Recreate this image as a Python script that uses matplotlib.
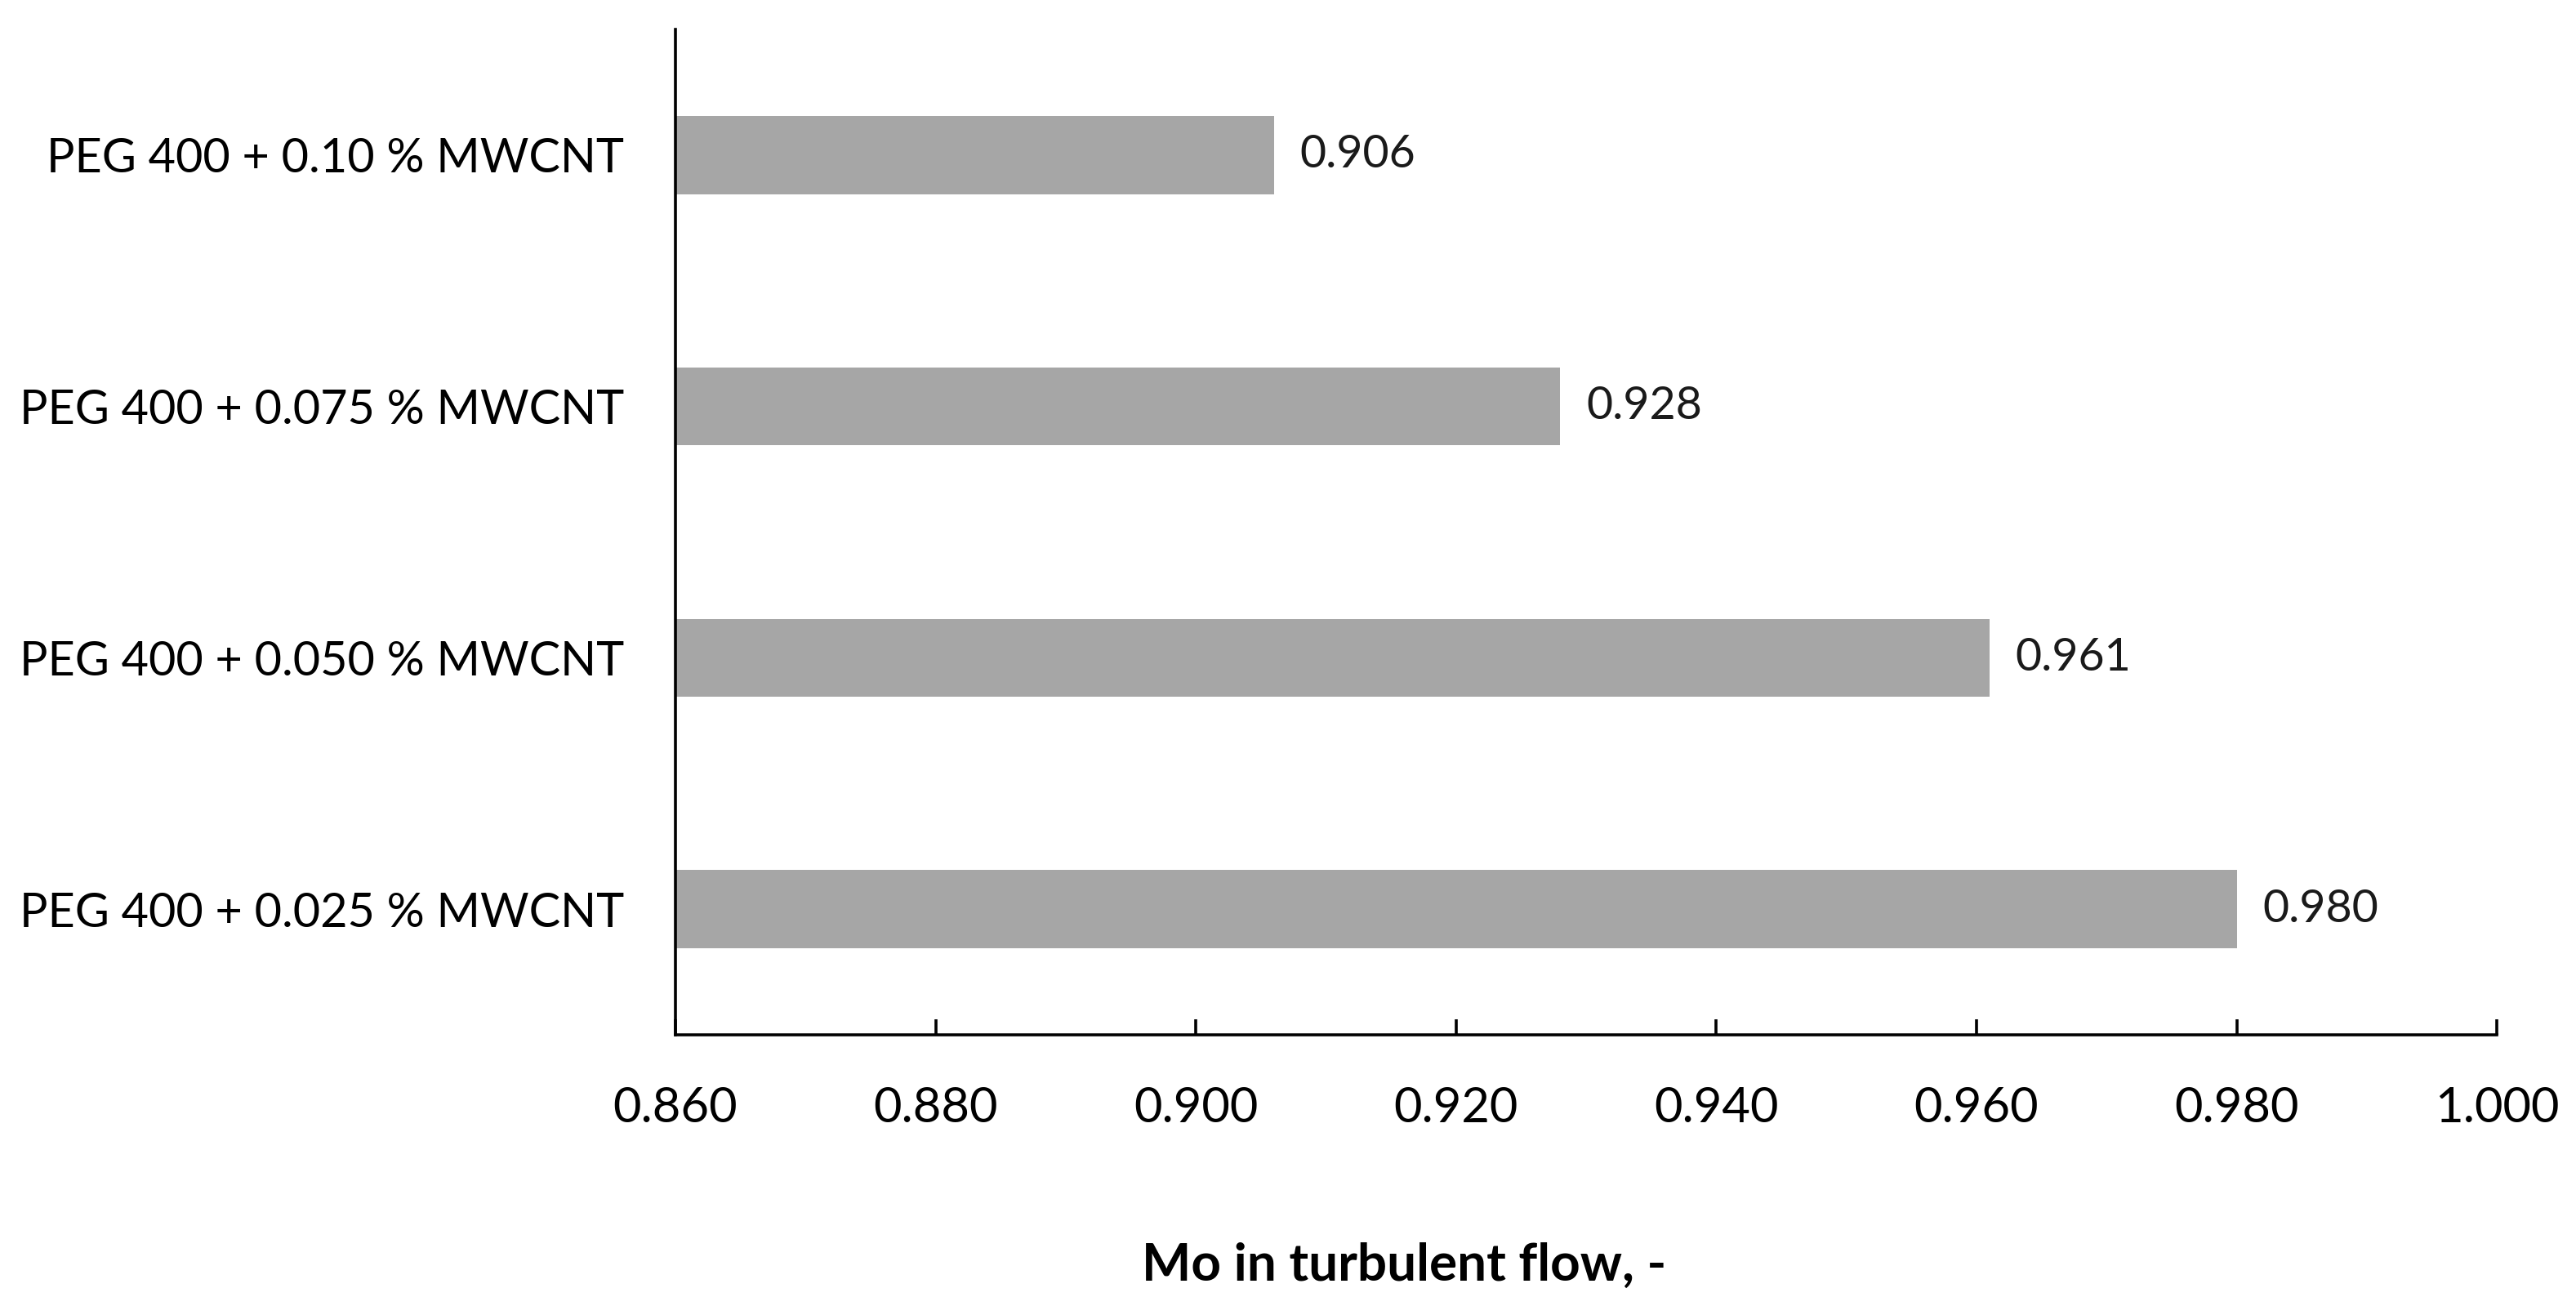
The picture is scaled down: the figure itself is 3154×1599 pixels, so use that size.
import matplotlib
matplotlib.use('Agg')
import matplotlib.pyplot as plt

# データ
categories = ['PEG 400 + 0.025 % MWCNT', 'PEG 400 + 0.050 % MWCNT',
              'PEG 400 + 0.075 % MWCNT', 'PEG 400 + 0.10 % MWCNT']
values = [0.980, 0.961, 0.928, 0.906]
xticks = [0.86, 0.88, 0.90, 0.92, 0.94, 0.96, 0.98, 1.00]

plt.rcParams['font.family'] = ['Lato', 'DejaVu Sans']

fig = plt.figure(figsize=(31.54, 15.99), dpi=100)
ax = fig.add_axes([0.2622, 0.2076, 0.7071, 0.7699])

ypos = list(range(len(categories)))
ax.barh(ypos, values, height=0.31, color='#A6A6A6', left=0)

# 値ラベル
for y, v in zip(ypos, values):
    ax.text(v + 0.002, y, f"{v:.3f}", va='center', ha='left', fontsize=40, color='#1a1a1a')

ax.set_xlim(0.86, 1.0)
ax.set_ylim(-0.5, 3.5)
ax.set_xticks(xticks)
ax.set_xticklabels([f"{t:.3f}" for t in xticks], fontsize=43)
ax.set_yticks(ypos)
ax.set_yticklabels(categories, fontsize=41.5)

for s in ['top', 'right']:
    ax.spines[s].set_visible(False)
for s in ['left', 'bottom']:
    ax.spines[s].set_linewidth(2.6)

ax.tick_params(axis='x', direction='in', length=14, width=2.6, pad=45)
ax.tick_params(axis='y', length=0, pad=45)

ax.set_xlabel('Mo in turbulent flow, -', fontsize=46, fontweight='bold')
ax.xaxis.set_label_coords(0.40, -0.229)
ax.xaxis.label.set_va('center')

fig.savefig('out.png', dpi=100)
